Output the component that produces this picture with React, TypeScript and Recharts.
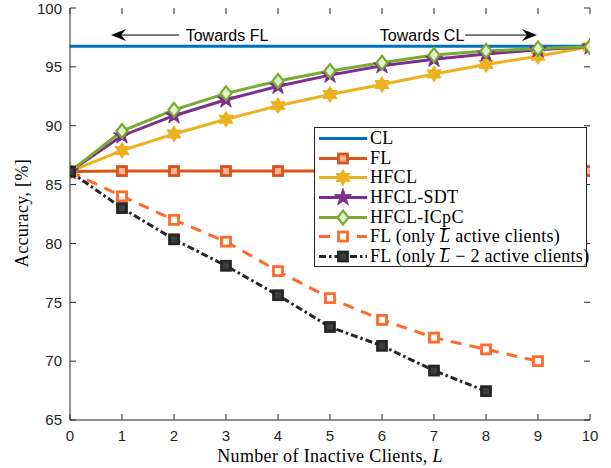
import React from 'react';
import { LineChart, Line, XAxis, YAxis, ReferenceLine, ReferenceDot, Legend } from 'recharts';

// ---------- data ----------
const inactiveClients = [0, 1, 2, 3, 4, 5, 6, 7, 8, 9, 10];
const clValues = [96.75, 96.75, 96.75, 96.75, 96.75, 96.75, 96.75, 96.75, 96.75, 96.75, 96.75];
const flValues = [86.1, 86.15, 86.15, 86.15, 86.15, 86.15, 86.15, 86.15, 86.15, 86.15, 86.15];
const hfclValues = [86.1, 87.9, 89.3, 90.55, 91.7, 92.65, 93.5, 94.4, 95.2, 95.9, 96.7];
const hfclSdtValues = [86.1, 89.15, 90.85, 92.2, 93.35, 94.3, 95.1, 95.65, 96.1, 96.45, 96.7];
const hfclIcpcValues = [86.1, 89.55, 91.35, 92.75, 93.8, 94.65, 95.35, 96.0, 96.35, 96.55, 96.7];
const flLbarValues = [86.1, 84.0, 82.0, 80.15, 77.65, 75.35, 73.5, 72.0, 71.0, 70.0, null];
const flLbar2Values = [86.1, 83.0, 80.35, 78.1, 75.6, 72.9, 71.3, 69.2, 67.45, null, null];

const xTicks = [0, 1, 2, 3, 4, 5, 6, 7, 8, 9, 10];
const yTicks = [65, 70, 75, 80, 85, 90, 95, 100];

const data = inactiveClients.map((x, i) => ({
  x,
  cl: clValues[i],
  fl: flValues[i],
  hfcl: hfclValues[i],
  sdt: hfclSdtValues[i],
  icpc: hfclIcpcValues[i],
  flL: flLbarValues[i],
  flL2: flLbar2Values[i],
}));

// ---------- styles ----------
const AXIS = '#262626';
const SANS = '"Liberation Sans", Arial, Helvetica, sans-serif';
const SERIF = '"Liberation Serif", "Times New Roman", serif';
const TICK_LEN = 6;

type Kind = 'none' | 'square' | 'hexagram' | 'pentagram' | 'diamond';

function starPoints(cx: number, cy: number, n: number, R: number, r: number) {
  const pts: string[] = [];
  for (let k = 0; k < 2 * n; k++) {
    const a = -Math.PI / 2 + (k * Math.PI) / n;
    const rad = k % 2 === 0 ? R : r;
    pts.push(`${cx + rad * Math.cos(a)},${cy + rad * Math.sin(a)}`);
  }
  return pts.join(' ');
}

function Marker({ kind, cx, cy, color, fill }: { kind: Kind; cx: number; cy: number; color: string; fill: string }) {
  if (kind === 'square') {
    return <rect x={cx - 4.5} y={cy - 4.5} width={9} height={9} fill={fill} stroke={color} strokeWidth={2.8} />;
  }
  if (kind === 'hexagram') {
    return <polygon points={starPoints(cx, cy, 6, 8, 8 / Math.sqrt(3))} fill={color} stroke={color} strokeWidth={1} strokeLinejoin="round" />;
  }
  if (kind === 'pentagram') {
    return <polygon points={starPoints(cx, cy, 5, 9, 9 * 0.382)} fill={color} stroke={color} strokeWidth={1} strokeLinejoin="round" />;
  }
  if (kind === 'diamond') {
    return <polygon points={`${cx},${cy - 7} ${cx + 5.5},${cy} ${cx},${cy + 7} ${cx - 5.5},${cy}`} fill={fill} stroke={color} strokeWidth={2.2} />;
  }
  return null;
}

type Series = {
  key: string;
  name: React.ReactNode;
  color: string;
  fill: string;
  kind: Kind;
  dash?: string;
};

const barL = (
  <span
    style={{
      fontStyle: 'italic',
      display: 'inline-block',
      borderTop: '1px solid #000',
      lineHeight: '13px',
      paddingTop: 1,
    }}
  >
    L
  </span>
);

const series: Series[] = [
  { key: 'cl', name: 'CL', color: '#0072BD', fill: '#0072BD', kind: 'none' },
  { key: 'fl', name: 'FL', color: '#D95319', fill: '#F3B596', kind: 'square' },
  { key: 'hfcl', name: 'HFCL', color: '#EDB120', fill: '#EDB120', kind: 'hexagram' },
  { key: 'sdt', name: 'HFCL-SDT', color: '#7E2F8E', fill: '#7E2F8E', kind: 'pentagram' },
  { key: 'icpc', name: 'HFCL-ICpC', color: '#77AC30', fill: '#E4F0D4', kind: 'diamond' },
  {
    key: 'flL',
    name: <>FL (only {barL} active clients)</>,
    color: '#FF6929',
    fill: '#FFFFFF',
    kind: 'square',
    dash: '11 8',
  },
  {
    key: 'flL2',
    name: <>FL (only {barL} − 2 active clients)</>,
    color: '#262626',
    fill: '#3c3c3c',
    kind: 'square',
    dash: '7 3 2.5 3',
  },
];

function LegendBox() {
  return (
    <div
      style={{
        width: 273,
        height: 140,
        border: `1px solid ${AXIS}`,
        background: '#fff',
        boxSizing: 'border-box',
        paddingTop: 1,
        fontFamily: SERIF,
        fontSize: 18,
        letterSpacing: 0.3,
        color: '#000',
      }}
    >
      {series.map((s) => (
        <div key={s.key} style={{ display: 'flex', alignItems: 'center', height: 19.6, whiteSpace: 'nowrap' }}>
          <svg width={55} height={19} style={{ flex: 'none' }}>
            <line x1={4} y1={9.5} x2={52} y2={9.5} stroke={s.color} strokeWidth={3} strokeDasharray={s.dash} />
            <Marker kind={s.kind} cx={28} cy={9.5} color={s.color} fill={s.fill} />
          </svg>
          <span style={{ marginLeft: 0 }}>{s.name}</span>
        </div>
      ))}
    </div>
  );
}

function arrowShape(tipAtStart: boolean) {
  return (p: any) => {
    const { x1, y1, x2 } = p;
    const tip = tipAtStart ? x1 : x2;
    const tail = tipAtStart ? x2 : x1;
    const y = y1;
    const dir = tail > tip ? 1 : -1;
    const len = 15;
    const half = 6;
    const notch = 10;
    return (
      <g>
        <line x1={tail} y1={y} x2={tip + dir * notch} y2={y} stroke="#000" strokeWidth={1} />
        <polygon
          points={`${tip},${y} ${tip + dir * len},${y - half} ${tip + dir * notch},${y} ${tip + dir * len},${y + half}`}
          fill="#000"
        />
      </g>
    );
  };
}

function textShape(label: string) {
  return (p: any) => (
    <text x={p.cx} y={p.cy} textAnchor="middle" dominantBaseline="central" fontFamily={SANS} fontSize={16} fill="#000">
      {label}
    </text>
  );
}

// inward tick marks drawn as zero-length reference segments on each border
function tickMarkShape(dx: number, dy: number) {
  return (p: any) => (
    <line x1={p.x1} y1={p.y1} x2={p.x1 + dx} y2={p.y1 + dy} stroke={AXIS} strokeWidth={1} />
  );
}

export default function App() {
  return (
    <div style={{ position: 'absolute', left: 0, top: 0, width: 611, height: 468, background: '#fff' }}>
      <LineChart width={611} height={468} data={data} margin={{ top: 8, right: 21, bottom: 0, left: 0 }}>
        <XAxis
          dataKey="x"
          type="number"
          domain={[0, 10]}
          ticks={xTicks}
          allowDataOverflow
          height={48}
          tickSize={0}
          tickLine={false}
          tickMargin={10}
          stroke={AXIS}
          tick={{ fill: AXIS, fontFamily: SANS, fontSize: 15 }}
        />
        <XAxis
          xAxisId="top"
          orientation="top"
          type="number"
          domain={[0, 10]}
          ticks={xTicks}
          allowDataOverflow
          height={0}
          tickLine={false}
          tick={false}
          stroke={AXIS}
        />
        <YAxis
          type="number"
          domain={[65, 100]}
          ticks={yTicks}
          allowDataOverflow
          width={70}
          tickSize={0}
          tickLine={false}
          tickMargin={8}
          stroke={AXIS}
          tick={{ fill: AXIS, fontFamily: SANS, fontSize: 15 }}
        />
        <YAxis
          yAxisId="right"
          orientation="right"
          type="number"
          domain={[65, 100]}
          ticks={yTicks}
          allowDataOverflow
          width={0}
          tickLine={false}
          tick={false}
          stroke={AXIS}
        />
        {xTicks.map((t) => (
          <ReferenceLine
            key={`xb${t}`}
            segment={[{ x: t, y: 65 }, { x: t, y: 65 }]}
            ifOverflow="visible"
            shape={tickMarkShape(0, -TICK_LEN)}
          />
        ))}
        {xTicks.map((t) => (
          <ReferenceLine
            key={`xt${t}`}
            segment={[{ x: t, y: 100 }, { x: t, y: 100 }]}
            ifOverflow="visible"
            shape={tickMarkShape(0, TICK_LEN)}
          />
        ))}
        {yTicks.map((t) => (
          <ReferenceLine
            key={`yl${t}`}
            segment={[{ x: 0, y: t }, { x: 0, y: t }]}
            ifOverflow="visible"
            shape={tickMarkShape(TICK_LEN, 0)}
          />
        ))}
        {yTicks.map((t) => (
          <ReferenceLine
            key={`yr${t}`}
            segment={[{ x: 10, y: t }, { x: 10, y: t }]}
            ifOverflow="visible"
            shape={tickMarkShape(-TICK_LEN, 0)}
          />
        ))}
        {series.map((s) => (
          <Line
            key={s.key}
            dataKey={s.key}
            stroke={s.color}
            strokeWidth={3}
            strokeDasharray={s.dash}
            isAnimationActive={false}
            legendType="none"
            dot={(p: any) =>
              p.cx == null || p.cy == null || p.value == null || s.kind === 'none' ? (
                <g key={p.key ?? p.index} />
              ) : (
                <g key={p.key ?? p.index}>
                  <Marker kind={s.kind} cx={p.cx} cy={p.cy} color={s.color} fill={s.fill} />
                </g>
              )
            }
            activeDot={false}
          />
        ))}
        <ReferenceLine segment={[{ x: 0.79, y: 97.7 }, { x: 2.1, y: 97.7 }]} shape={arrowShape(true)} />
        <ReferenceLine segment={[{ x: 7.6, y: 97.7 }, { x: 8.98, y: 97.7 }]} shape={arrowShape(false)} />
        <ReferenceDot x={3.02} y={97.7} r={0} shape={textShape('Towards FL')} />
        <ReferenceDot x={6.77} y={97.7} r={0} shape={textShape('Towards CL')} />
        <Legend
          layout="vertical"
          align="center"
          verticalAlign="middle"
          content={() => <LegendBox />}
          wrapperStyle={{ position: 'absolute', left: 314, top: 127, width: 'auto', height: 'auto' }}
        />
      </LineChart>
      <div
        style={{
          position: 'absolute',
          left: 0,
          top: 446,
          width: 660,
          textAlign: 'center',
          fontFamily: SERIF,
          fontSize: 18,
          letterSpacing: 0.35,
          color: '#000',
          lineHeight: '20px',
          whiteSpace: 'nowrap',
        }}
      >
        Number of Inactive Clients, <i>L</i>
      </div>
      <div
        style={{
          position: 'absolute',
          left: 22,
          top: 213,
          transform: 'translate(-50%, -50%) rotate(-90deg)',
          fontFamily: SERIF,
          fontSize: 18,
          letterSpacing: 0.35,
          color: '#000',
          lineHeight: '20px',
          whiteSpace: 'nowrap',
        }}
      >
        Accuracy, [%]
      </div>
    </div>
  );
}
